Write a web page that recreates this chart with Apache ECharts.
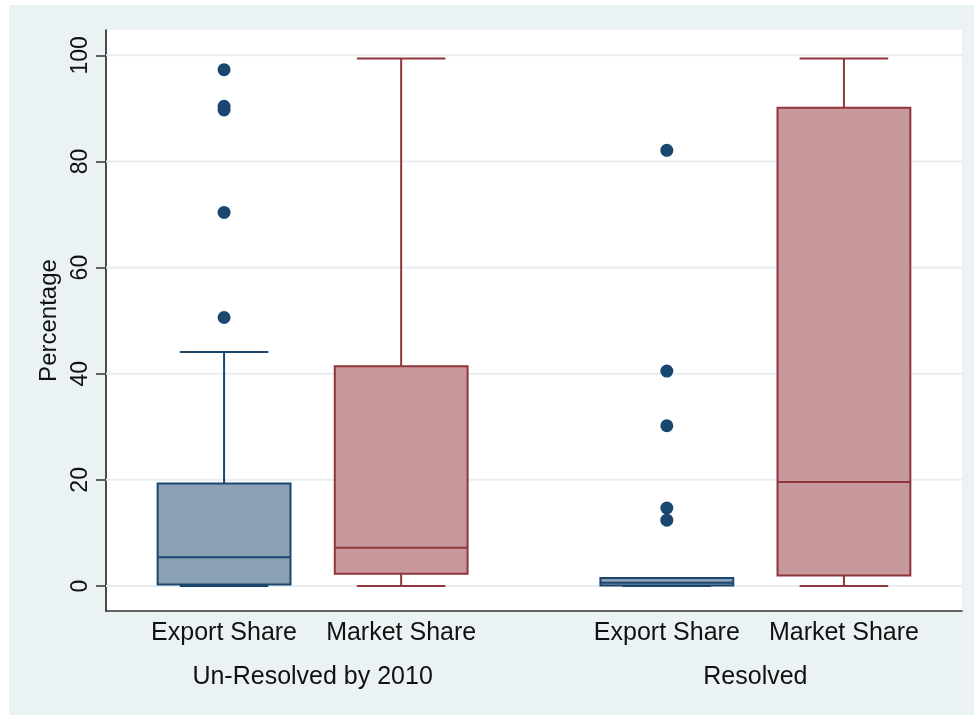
<!DOCTYPE html>
<html>
<head>
<meta charset="utf-8">
<script src="https://cdn.jsdelivr.net/npm/echarts@6/dist/echarts.min.js"></script>
<style>
  html, body { margin: 0; padding: 0; background: #ffffff; }
  #chart { width: 974px; height: 715px; }
</style>
</head>
<body>
<div id="chart"></div>
<script>
// Box summaries per variable, grouped by dispute status
const groups = ['Un-Resolved by 2010', 'Resolved'];
const variables = ['Export Share', 'Market Share'];

// order: [unresolved export, unresolved market, resolved export, resolved market]
const lowWhisker  = [0.0, 0.0, 0.0, 0.0];
const q1          = [0.3, 2.3, 0.1, 2.0];
const median      = [5.4, 7.2, 0.6, 19.6];
const q3          = [19.3, 41.4, 1.5, 90.1];
const highWhisker = [44.1, 99.4, 1.5, 99.4];
const outliers = [
  [97.3, 90.4, 89.7, 70.4, 50.6],
  [],
  [82.1, 40.5, 30.2, 14.7, 12.4],
  []
];
const yTicks = [0, 20, 40, 60, 80, 100];

// layout along the category axis: one slot per box, a wider gap between groups
const slotGap = 1, groupGap = 2.5;
function slotPos(k) {
  const g = Math.floor(k / variables.length), v = k % variables.length;
  return 1 + g * groupGap + v * slotGap;
}
const boxColors = [
  { line: '#1a476f', fill: '#8ba1b6' },
  { line: '#90353b', fill: '#c8999c' }
];
const FONT = 'Liberation Sans, Arial, Helvetica, sans-serif';

const boxData = lowWhisker.map((_, k) => [slotPos(k), lowWhisker[k], q1[k], median[k], q3[k], highWhisker[k], k % variables.length]);
const outlierData = [];
outliers.forEach((list, k) => list.forEach(v => outlierData.push([slotPos(k), v])));

const labelPositions = lowWhisker.map((_, k) => slotPos(k));
const groupPositions = groups.map((_, g) => (slotPos(g * variables.length) + slotPos(g * variables.length + variables.length - 1)) / 2);

const chart = echarts.init(document.getElementById('chart'), null, { renderer: 'canvas' });

const option = {
  backgroundColor: '#ffffff',
  animation: false,
  graphic: [{
    type: 'rect', z: -10, silent: true,
    shape: { x: 9, y: 5, width: 965, height: 710 },
    style: { fill: '#eaf2f3' }
  }],
  grid: {
    left: 106, top: 30, right: 12, bottom: 104,
    show: true, backgroundColor: '#ffffff', borderWidth: 0
  },
  xAxis: [{
    type: 'value', min: 1 / 3, max: 5 + 1 / 6,
    axisLine: { show: true, onZero: false, lineStyle: { color: '#333333', width: 1.5 } },
    axisTick: { show: false },
    splitLine: { show: false },
    axisLabel: {
      customValues: labelPositions,
      formatter: (val) => variables[labelPositions.indexOf(val) % variables.length],
      fontFamily: FONT, fontSize: 25, color: '#111111', margin: 10
    }
  }, {
    type: 'value', min: 1 / 3, max: 5 + 1 / 6, position: 'bottom', offset: 44,
    axisLine: { show: false }, axisTick: { show: false }, splitLine: { show: false },
    axisLabel: {
      customValues: groupPositions,
      formatter: (val) => groups[groupPositions.indexOf(val)],
      fontFamily: FONT, fontSize: 25, color: '#111111', margin: 10
    }
  }],
  yAxis: {
    type: 'value', min: -4.71, max: 104.77,
    name: 'Percentage', nameLocation: 'middle', nameRotate: 90, nameGap: 37,
    nameTextStyle: { fontFamily: FONT, fontSize: 24, color: '#111111' },
    axisLine: { show: true, onZero: false, lineStyle: { color: '#111111', width: 1.5 } },
    axisTick: { show: true, customValues: yTicks, length: 10, lineStyle: { color: '#333333', width: 1.5 } },
    splitLine: { show: false },
    axisLabel: {
      customValues: yTicks, rotate: 90, margin: 14,
      fontFamily: FONT, fontSize: 23, color: '#111111'
    }
  },
  series: [{
    // horizontal grid lines at the labelled ticks, beneath the boxes
    type: 'custom', z: 1, silent: true,
    data: yTicks,
    encode: { y: 0 },
    renderItem: function (params, api) {
      const cs = params.coordSys;
      const y = api.coord([cs.x, api.value(0)])[1];
      return {
        type: 'line',
        shape: { x1: cs.x, y1: y, x2: cs.x + cs.width, y2: y },
        style: { stroke: '#e6eef1', lineWidth: 2 }
      };
    }
  }, {
    type: 'custom', z: 3,
    data: boxData,
    encode: { x: 0, y: [1, 2, 3, 4, 5] },
    renderItem: function (params, api) {
      const x = api.value(0);
      const col = boxColors[api.value(6)];
      const pLow = api.coord([x, api.value(1)]);
      const pQ1 = api.coord([x, api.value(2)]);
      const pMed = api.coord([x, api.value(3)]);
      const pQ3 = api.coord([x, api.value(4)]);
      const pHigh = api.coord([x, api.value(5)]);
      const boxW = api.size([0.75, 0])[0];
      const capW = api.size([0.5, 0])[0];
      const cx = pQ1[0];
      const line = { stroke: col.line, lineWidth: 2, fill: null };
      return {
        type: 'group',
        children: [
          { type: 'line', shape: { x1: cx, y1: pQ3[1], x2: cx, y2: pHigh[1] }, style: line },
          { type: 'line', shape: { x1: cx, y1: pQ1[1], x2: cx, y2: pLow[1] }, style: line },
          { type: 'rect', shape: { x: cx - boxW / 2, y: pQ3[1], width: boxW, height: pQ1[1] - pQ3[1] },
            style: { fill: col.fill, stroke: col.line, lineWidth: 2 } },
          { type: 'line', shape: { x1: cx - boxW / 2, y1: pMed[1], x2: cx + boxW / 2, y2: pMed[1] }, style: line },
          { type: 'line', shape: { x1: cx - capW / 2, y1: pHigh[1], x2: cx + capW / 2, y2: pHigh[1] }, style: line },
          { type: 'line', shape: { x1: cx - capW / 2, y1: pLow[1], x2: cx + capW / 2, y2: pLow[1] }, style: line }
        ]
      };
    }
  }, {
    type: 'scatter', z: 4,
    data: outlierData,
    symbol: 'circle', symbolSize: 13,
    itemStyle: { color: '#1a476f', opacity: 1 }
  }]
};
chart.setOption(option);
</script>
</body>
</html>
